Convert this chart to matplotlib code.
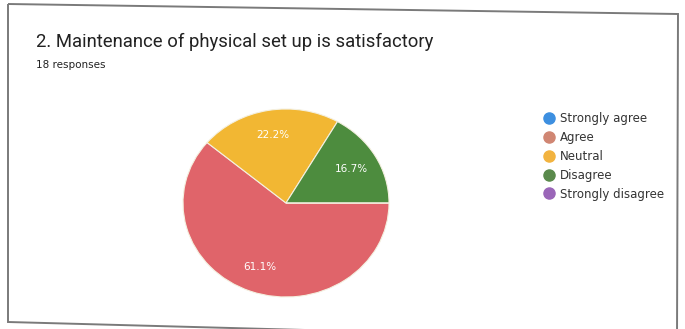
import matplotlib.pyplot as plt
from matplotlib.lines import Line2D
from matplotlib.patches import Polygon

# survey answers (18 responses)
labels = ["Strongly agree", "Agree", "Neutral", "Disagree", "Strongly disagree"]
counts = [0, 11, 4, 3, 0]
pie_colors = ["#3d8fe0", "#e0646a", "#f2b733", "#4d8c3e", "#9a66b8"]
legend_colors = ["#3d8fe0", "#d08673", "#f2b33f", "#5a8a4c", "#9a66b8"]

title = "2. Maintenance of physical set up is satisfactory"
subtitle = "18 responses"

plt.rcParams["font.family"] = ["Roboto", "DejaVu Sans"]

W, H = 685, 329
fig = plt.figure(figsize=(W / 100, H / 100), dpi=100)
fig.patch.set_facecolor("white")


def fx(px):
    return px / W


def fy(py):
    return 1 - py / H


# scanned card border, slightly tilted
frame = Polygon(
    [(fx(8), fy(4)), (fx(678), fy(14)), (fx(677), fy(340)), (fx(8), fy(322))],
    closed=True, fill=False, edgecolor="#7a7a7a", linewidth=1.4,
    transform=fig.transFigure,
)
fig.add_artist(frame)

fig.text(fx(36), fy(42), title, fontsize=13.3, color="#222222", va="center", ha="left")
fig.text(fx(36), fy(65), subtitle, fontsize=7.5, color="#222222", va="center", ha="left",
         family="DejaVu Sans")

# pie axes (scan makes it a bit wider than tall)
cx, cy, rx, ry = 286, 203, 103, 94
ax = fig.add_axes([fx(cx - rx), fy(cy + ry), 2 * rx / W, 2 * ry / H])


def fmt(p):
    return f"{p:.1f}%" if p > 0 else ""


wedges, texts, autotexts = ax.pie(
    counts, colors=pie_colors, startangle=0, counterclock=False,
    autopct=fmt, pctdistance=0.73, radius=1,
    wedgeprops=dict(edgecolor="#f4f0e0", linewidth=0.8),
    textprops=dict(color="white", fontsize=7.5, family="DejaVu Sans"),
)
ax.set_aspect("auto")
ax.set_xlim(-1, 1)
ax.set_ylim(-1, 1)
ax.axis("off")

handles = [
    Line2D([], [], marker="o", linestyle="none", markersize=8,
           markerfacecolor=c, markeredgecolor=c)
    for c in legend_colors
]
leg = fig.legend(
    handles, labels, loc="upper left", bbox_to_anchor=(fx(542), fy(112)),
    frameon=False, handletextpad=0.35, labelspacing=0.5,
    handlelength=1.2, borderaxespad=0, borderpad=0,
    prop=dict(family="DejaVu Sans", size=8.5),
)
for t in leg.get_texts():
    t.set_color("#333333")

fig.savefig("out.png", dpi=100)
